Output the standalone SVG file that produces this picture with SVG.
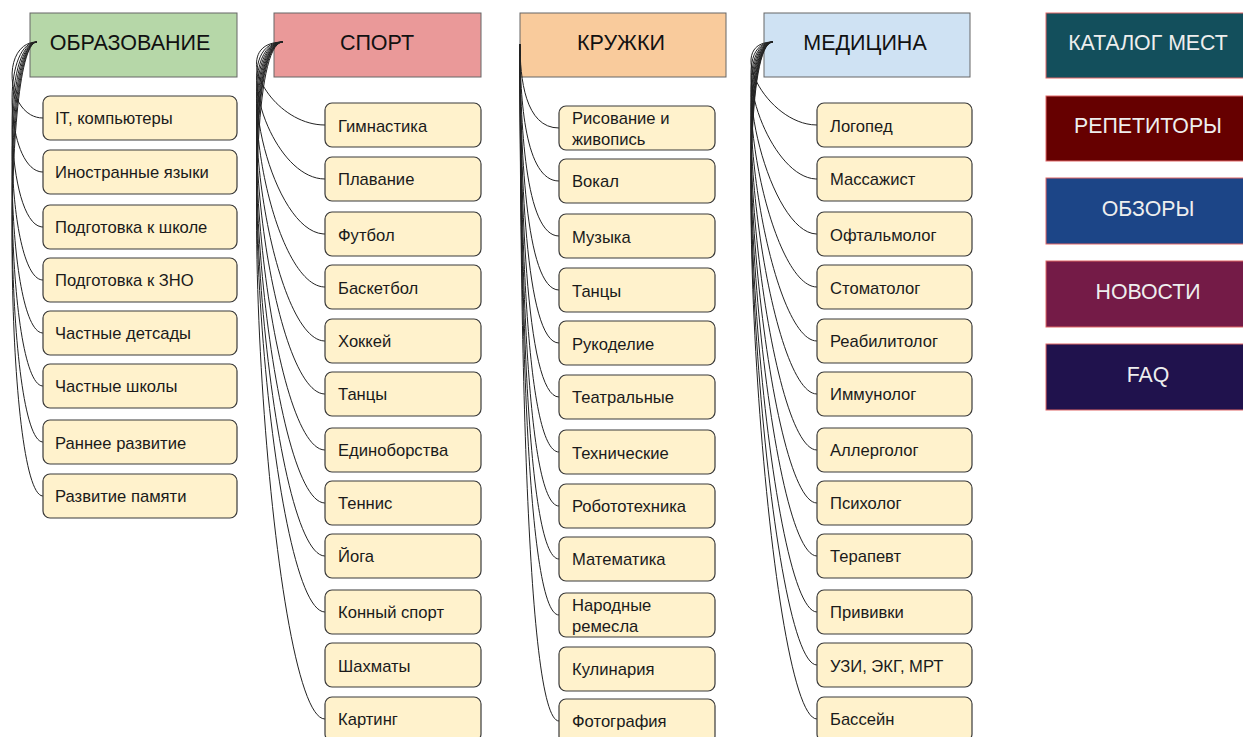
<svg xmlns="http://www.w3.org/2000/svg" width="1243" height="737" viewBox="0 0 1243 737">
<style>
.hdr{stroke:#666;stroke-width:1}
.ht{font-family:"Liberation Sans",Arial,sans-serif;font-size:21.5px;fill:#111;text-anchor:middle}
.item rect{fill:#fff2cc;stroke:#3a3a3a;stroke-width:1.2}
.it{font-family:"Liberation Sans",Arial,sans-serif;font-size:16.6px;fill:#1a1a1a}
.btn rect{stroke:#e06666;stroke-width:1}
.bt{font-family:"Liberation Sans",Arial,sans-serif;font-size:21.3px;fill:#eeeeee;text-anchor:middle}
.c path{fill:none;stroke:#222;stroke-width:1}
</style>
<rect width="1243" height="737" fill="#ffffff"/>

<!-- headers -->
<g id="obrazovanie"><rect class="hdr" x="30" y="13" width="207" height="64" fill="#b6d7a8"/><text class="ht" x="130" y="50">ОБРАЗОВАНИЕ</text></g>
<g id="sport"><rect class="hdr" x="274" y="13" width="207" height="64" fill="#ea9999"/><text class="ht" x="377" y="50">СПОРТ</text></g>
<g id="kruzhki"><rect class="hdr" x="520" y="13" width="206" height="64" fill="#f9cb9c"/><text class="ht" x="621" y="50">КРУЖКИ</text></g>
<g id="medicina"><rect class="hdr" x="764" y="13" width="206" height="64" fill="#cfe2f3"/><text class="ht" x="865" y="50">МЕДИЦИНА</text></g>

<!-- connectors -->
<g id="connectors" class="c">
<path d="M37,42 C0,42 6,118 43,118"/>
<path d="M37,42 C0,42 6,172 43,172"/>
<path d="M37,42 C0,42 6,227 43,227"/>
<path d="M37,42 C0,42 6,280 43,280"/>
<path d="M37,42 C0,42 6,333 43,333"/>
<path d="M37,42 C0,42 6,386 43,386"/>
<path d="M37,42 C0,42 6,442 43,442"/>
<path d="M37,42 C0,42 6,496 43,496"/>

<path d="M283,42 C227,42 269,125 325,125"/>
<path d="M283,42 C227,42 269,179 325,179"/>
<path d="M283,42 C227,42 269,234 325,234"/>
<path d="M283,42 C227,42 269,287 325,287"/>
<path d="M283,42 C227,42 269,341 325,341"/>
<path d="M283,42 C227,42 269,394 325,394"/>
<path d="M283,42 C227,42 269,450 325,450"/>
<path d="M283,42 C227,42 269,503 325,503"/>
<path d="M283,42 C227,42 269,556 325,556"/>
<path d="M283,42 C227,42 269,612 325,612"/>
<path d="M283,42 C227,42 269,719 325,719"/>

<path d="M520,44 C520,78 525,128 559,128"/>
<path d="M520,44 C520,99 525,181 559,181"/>
<path d="M520,44 C520,121 525,236 559,236"/>
<path d="M520,44 C520,143 525,290 559,290"/>
<path d="M520,44 C520,164 525,343 559,343"/>
<path d="M520,44 C520,185 525,397 559,397"/>
<path d="M520,44 C520,207 525,452 559,452"/>
<path d="M520,44 C520,229 525,506 559,506"/>
<path d="M520,44 C520,250 525,559 559,559"/>
<path d="M520,44 C520,272 525,615 559,615"/>
<path d="M520,44 C520,293 525,721 559,721"/>

<path d="M773,42 C723,42 767,125 817,125"/>
<path d="M773,42 C723,42 767,179 817,179"/>
<path d="M773,42 C723,42 767,234 817,234"/>
<path d="M773,42 C723,42 767,287 817,287"/>
<path d="M773,42 C723,42 767,341 817,341"/>
<path d="M773,42 C723,42 767,394 817,394"/>
<path d="M773,42 C723,42 767,450 817,450"/>
<path d="M773,42 C723,42 767,503 817,503"/>
<path d="M773,42 C723,42 767,556 817,556"/>
<path d="M773,42 C723,42 767,612 817,612"/>
<path d="M773,42 C723,42 767,665 817,665"/>
<path d="M773,42 C723,42 767,719 817,719"/>
</g>

<!-- ОБРАЗОВАНИЕ items -->
<g id="edu-1" class="item"><rect x="43" y="96" width="194" height="44" rx="7"/><text class="it" x="55" y="124">IT, компьютеры</text></g>
<g id="edu-2" class="item"><rect x="43" y="150" width="194" height="44" rx="7"/><text class="it" x="55" y="178">Иностранные языки</text></g>
<g id="edu-3" class="item"><rect x="43" y="205" width="194" height="44" rx="7"/><text class="it" x="55" y="233">Подготовка к школе</text></g>
<g id="edu-4" class="item"><rect x="43" y="258" width="194" height="44" rx="7"/><text class="it" x="55" y="286">Подготовка к ЗНО</text></g>
<g id="edu-5" class="item"><rect x="43" y="311" width="194" height="44" rx="7"/><text class="it" x="55" y="339">Частные детсады</text></g>
<g id="edu-6" class="item"><rect x="43" y="364" width="194" height="44" rx="7"/><text class="it" x="55" y="392">Частные школы</text></g>
<g id="edu-7" class="item"><rect x="43" y="420" width="194" height="44" rx="7"/><text class="it" x="55" y="449">Раннее развитие</text></g>
<g id="edu-8" class="item"><rect x="43" y="474" width="194" height="44" rx="7"/><text class="it" x="55" y="502">Развитие памяти</text></g>

<!-- СПОРТ items -->
<g id="sport-1" class="item"><rect x="325" y="103" width="156" height="44" rx="7"/><text class="it" x="338" y="132">Гимнастика</text></g>
<g id="sport-2" class="item"><rect x="325" y="157" width="156" height="44" rx="7"/><text class="it" x="338" y="185">Плавание</text></g>
<g id="sport-3" class="item"><rect x="325" y="212" width="156" height="44" rx="7"/><text class="it" x="338" y="241">Футбол</text></g>
<g id="sport-4" class="item"><rect x="325" y="265" width="156" height="44" rx="7"/><text class="it" x="338" y="294">Баскетбол</text></g>
<g id="sport-5" class="item"><rect x="325" y="319" width="156" height="44" rx="7"/><text class="it" x="338" y="347">Хоккей</text></g>
<g id="sport-6" class="item"><rect x="325" y="372" width="156" height="44" rx="7"/><text class="it" x="338" y="400">Танцы</text></g>
<g id="sport-7" class="item"><rect x="325" y="428" width="156" height="44" rx="7"/><text class="it" x="338" y="456">Единоборства</text></g>
<g id="sport-8" class="item"><rect x="325" y="481" width="156" height="44" rx="7"/><text class="it" x="338" y="509">Теннис</text></g>
<g id="sport-9" class="item"><rect x="325" y="534" width="156" height="44" rx="7"/><text class="it" x="338" y="562">Йога</text></g>
<g id="sport-10" class="item"><rect x="325" y="590" width="156" height="44" rx="7"/><text class="it" x="338" y="618">Конный спорт</text></g>
<g id="sport-11" class="item"><rect x="325" y="643" width="156" height="44" rx="7"/><text class="it" x="338" y="672">Шахматы</text></g>
<g id="sport-12" class="item"><rect x="325" y="697" width="156" height="44" rx="7"/><text class="it" x="338" y="725">Картинг</text></g>

<!-- КРУЖКИ items -->
<g id="kr-1" class="item"><rect x="559" y="106" width="156" height="44" rx="7"/><text class="it" x="572" y="124">Рисование и</text><text class="it" x="572" y="145">живопись</text></g>
<g id="kr-2" class="item"><rect x="559" y="159" width="156" height="44" rx="7"/><text class="it" x="572" y="187">Вокал</text></g>
<g id="kr-3" class="item"><rect x="559" y="214" width="156" height="44" rx="7"/><text class="it" x="572" y="243">Музыка</text></g>
<g id="kr-4" class="item"><rect x="559" y="268" width="156" height="44" rx="7"/><text class="it" x="572" y="297">Танцы</text></g>
<g id="kr-5" class="item"><rect x="559" y="321" width="156" height="44" rx="7"/><text class="it" x="572" y="350">Рукоделие</text></g>
<g id="kr-6" class="item"><rect x="559" y="375" width="156" height="44" rx="7"/><text class="it" x="572" y="403">Театральные</text></g>
<g id="kr-7" class="item"><rect x="559" y="430" width="156" height="44" rx="7"/><text class="it" x="572" y="459">Технические</text></g>
<g id="kr-8" class="item"><rect x="559" y="484" width="156" height="44" rx="7"/><text class="it" x="572" y="512">Робототехника</text></g>
<g id="kr-9" class="item"><rect x="559" y="537" width="156" height="44" rx="7"/><text class="it" x="572" y="565">Математика</text></g>
<g id="kr-10" class="item"><rect x="559" y="593" width="156" height="44" rx="7"/><text class="it" x="572" y="611">Народные</text><text class="it" x="572" y="632">ремесла</text></g>
<g id="kr-11" class="item"><rect x="559" y="647" width="156" height="44" rx="7"/><text class="it" x="572" y="675">Кулинария</text></g>
<g id="kr-12" class="item"><rect x="559" y="699" width="156" height="44" rx="7"/><text class="it" x="572" y="727">Фотография</text></g>

<!-- МЕДИЦИНА items -->
<g id="med-1" class="item"><rect x="817" y="103" width="155" height="44" rx="7"/><text class="it" x="830" y="132">Логопед</text></g>
<g id="med-2" class="item"><rect x="817" y="157" width="155" height="44" rx="7"/><text class="it" x="830" y="185">Массажист</text></g>
<g id="med-3" class="item"><rect x="817" y="212" width="155" height="44" rx="7"/><text class="it" x="830" y="241">Офтальмолог</text></g>
<g id="med-4" class="item"><rect x="817" y="265" width="155" height="44" rx="7"/><text class="it" x="830" y="294">Стоматолог</text></g>
<g id="med-5" class="item"><rect x="817" y="319" width="155" height="44" rx="7"/><text class="it" x="830" y="347">Реабилитолог</text></g>
<g id="med-6" class="item"><rect x="817" y="372" width="155" height="44" rx="7"/><text class="it" x="830" y="400">Иммунолог</text></g>
<g id="med-7" class="item"><rect x="817" y="428" width="155" height="44" rx="7"/><text class="it" x="830" y="456">Аллерголог</text></g>
<g id="med-8" class="item"><rect x="817" y="481" width="155" height="44" rx="7"/><text class="it" x="830" y="509">Психолог</text></g>
<g id="med-9" class="item"><rect x="817" y="534" width="155" height="44" rx="7"/><text class="it" x="830" y="562">Терапевт</text></g>
<g id="med-10" class="item"><rect x="817" y="590" width="155" height="44" rx="7"/><text class="it" x="830" y="618">Прививки</text></g>
<g id="med-11" class="item"><rect x="817" y="643" width="155" height="44" rx="7"/><text class="it" x="830" y="672">УЗИ, ЭКГ, МРТ</text></g>
<g id="med-12" class="item"><rect x="817" y="697" width="155" height="44" rx="7"/><text class="it" x="830" y="725">Бассейн</text></g>

<!-- right menu -->
<g id="katalog" class="btn"><rect x="1046" y="13" width="205" height="65" fill="#134f5c"/><text class="bt" x="1148" y="50">КАТАЛОГ МЕСТ</text></g>
<g id="repetitory" class="btn"><rect x="1046" y="96" width="205" height="65" fill="#660000"/><text class="bt" x="1148" y="133">РЕПЕТИТОРЫ</text></g>
<g id="obzory" class="btn"><rect x="1046" y="178" width="205" height="66" fill="#1c4587"/><text class="bt" x="1148" y="216">ОБЗОРЫ</text></g>
<g id="novosti" class="btn"><rect x="1046" y="261" width="205" height="66" fill="#741b47"/><text class="bt" x="1148" y="299">НОВОСТИ</text></g>
<g id="faq" class="btn"><rect x="1046" y="344" width="205" height="66" fill="#20124d"/><text class="bt" x="1148" y="382">FAQ</text></g>
</svg>
